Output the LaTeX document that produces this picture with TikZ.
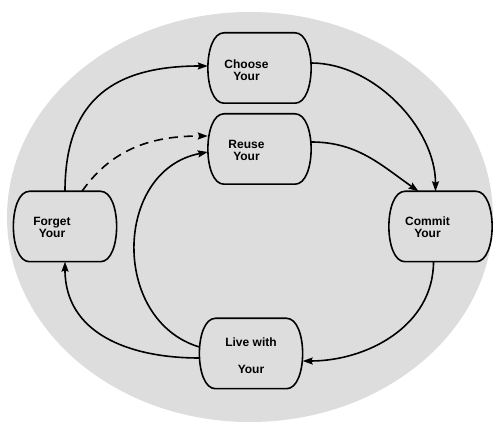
\documentclass[tikz,border=0pt]{standalone}
\usepackage{fontspec}
\setmainfont{Liberation Sans}
\usepackage{tikz}
\usetikzlibrary{arrows.meta, positioning, calc}
\usepackage{xcolor}
\definecolor{cyclegrey}{RGB}{221,221,221}

\begin{document}
\begin{tikzpicture}[
        x=1pt, y=1pt,
        every node/.style={align=center},
        stage/.style={rectangle, minimum width=103pt, minimum height=70pt, inner sep=0pt},
        outline/.style={draw=black, line width=1.6pt},
        lbl/.style={font=\fontsize{12}{12}\selectfont\bfseries, align=center},
        flow/.style={->, >={Stealth[length=10pt, width=7pt, inset=1.5pt]}, line width=1.6pt},
        maybe/.style={flow, dash pattern=on 9pt off 6pt}
    ]
        \useasboundingbox (0,0) rectangle (496,423);
        % Grey oval behind the cycle
        \fill[cyclegrey] (250,206) ellipse [x radius=243, y radius=205];

        % Place nodes with explicit coordinates
        \node [stage, label={[lbl, xshift=-13pt, yshift=-2pt]center:{Choose\\Your}}] (choose) at (259.5,355) {};
        \node [stage, label={[lbl, xshift=-13pt, yshift=-1pt]center:{Reuse\\Your}}] (reuse) at (259.5,274) {};
        \node [stage, label={[lbl, xshift=-13pt, yshift=-1pt]center:{Forget\\Your}}] (forget) at (65,196.5) {};
        \node [stage, label={[lbl, xshift=-13pt, yshift=-1pt]center:{Commit\\Your}}] (commit) at (440.5,196.5) {};
        \node [stage, label={[lbl, yshift=-2.5pt]center:{Live with\\[15pt]Your}}] (live) at (251,69.5) {};

        % Boxes with bulging sides
        \foreach \n in {choose, reuse, forget, commit, live}
            \draw[outline] ([xshift=-35.5pt]\n.north) -- ([xshift=35.5pt]\n.north)
                .. controls +(21.5,0) and +(21.5,0) .. ([xshift=35.5pt]\n.south)
                -- ([xshift=-35.5pt]\n.south)
                .. controls +(-21.5,0) and +(-21.5,0) .. ([xshift=-35.5pt]\n.north) -- cycle;

        % Forget -> Choose / Reuse
        \draw[flow] (forget.north) to[out=90, in=180, looseness=1.25] ([yshift=2pt]choose.west);
        \draw[maybe] ([xshift=17pt]forget.north) to[out=55, in=180] ([yshift=13pt]reuse.west);

        % Choose / Reuse -> Commit
        \draw[flow] ([yshift=5pt]choose.east) to[out=0, in=90, looseness=0.9] ([xshift=-5pt]commit.north);
        \draw[flow] ([yshift=7pt]reuse.east) to[out=0, in=145] ([xshift=-22pt]commit.north);

        % Commit -> Live with
        \draw[flow] ([xshift=-7pt]commit.south) to[out=-90, in=0] ([yshift=-7.5pt]live.east);

        % Live with -> Reuse / Forget
        \draw[flow] ([yshift=6.5pt]live.west) .. controls +(-89,27) and +(-94,-18) .. ([yshift=-3pt]reuse.west);
        \draw[flow] ([yshift=-4.5pt]live.west) to[out=180, in=-90, looseness=1.1] (forget.south);
    \end{tikzpicture}
\end{document}
